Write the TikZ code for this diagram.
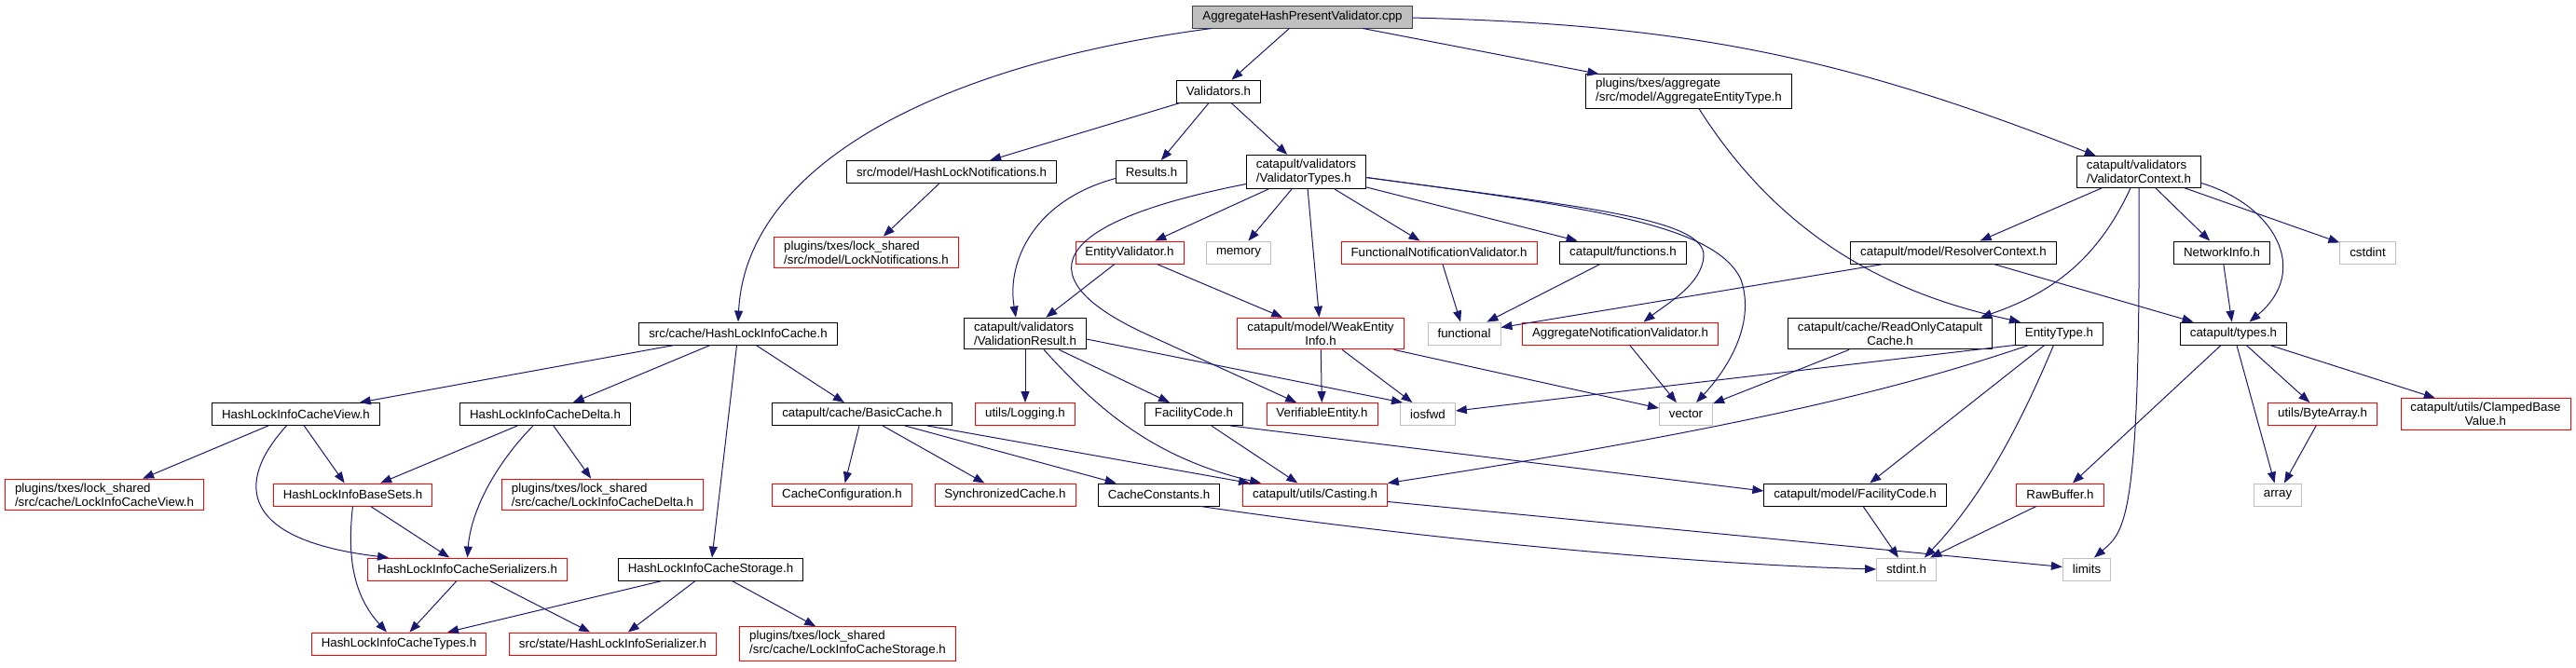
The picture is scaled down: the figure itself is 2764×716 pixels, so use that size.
\documentclass[tikz,border=0pt]{standalone}
\usepackage{fontspec}
\setmainfont{Liberation Sans}
\usetikzlibrary{arrows.meta}

\definecolor{edgeblue}{RGB}{25,25,112}
\definecolor{sysgray}{RGB}{191,191,191}
\definecolor{rootborder}{RGB}{64,64,64}

\tikzset{
    hdr/.style={rectangle, draw=black, fill=white, line width=0.9pt,
        font=\fontsize{13.3}{15}\selectfont, inner xsep=10.5pt, inner ysep=4.5pt,
        minimum height=24pt},
    hdrTrunc/.style={hdr, draw=red},
    hdrSys/.style={hdr, draw=sysgray},
    hdrRoot/.style={hdr, fill=sysgray, draw=rootborder},
    dep/.style={->, draw=edgeblue, line width=1pt}
}

\begin{document}
\begin{tikzpicture}[x=1pt, y=-1pt, >={Triangle[length=12pt, width=9pt]}]

        \useasboundingbox (0,0) rectangle (2764,716);

        % Vertices
        \node[hdrRoot](root) at (1397.5,18){AggregateHashPresentValidator.cpp};
        \node[hdr](validators) at (1307.5,98){Validators.h};
        \node[hdr, align=left](aggType) at (1812,98){plugins/txes/aggregate\\/src/model/AggregateEntityType.h};
        \node[hdr](hlNotif) at (1021,184.5){src/model/HashLockNotifications.h};
        \node[hdr](results) at (1235.5,184.5){Results.h};
        \node[hdr, align=left](valTypes) at (1401.5,184.5){catapult/validators\\/ValidatorTypes.h};
        \node[hdr, align=left](valContext) at (2295,184.5){catapult/validators\\/ValidatorContext.h};
        \node[hdrTrunc, align=left](lockNotif) at (929.5,271){plugins/txes/lock\_shared\\/src/model/LockNotifications.h};
        \node[hdrTrunc](entityVal) at (1212,271){EntityValidator.h};
        \node[hdrSys](memory) at (1329,271){memory};
        \node[hdrTrunc](funcNotif) at (1544,271){FunctionalNotificationValidator.h};
        \node[hdr](functions) at (1741.5,271){catapult/functions.h};
        \node[hdr](resolverCtx) at (2096,271){catapult/model/ResolverContext.h};
        \node[hdr](networkInfo) at (2384,271){NetworkInfo.h};
        \node[hdrSys](cstdint) at (2540.5,271){cstdint};
        \node[hdr](hlCache) at (792,358){src/cache/HashLockInfoCache.h};
        \node[hdr, align=left](valResult) at (1100,358){catapult/validators\\/ValidationResult.h};
        \node[hdrTrunc, align=center](weakEntity) at (1417,358){catapult/model/WeakEntity\\Info.h};
        \node[hdrSys](functional) at (1571,358){functional};
        \node[hdrTrunc](aggNotif) at (1738.5,358){AggregateNotificationValidator.h};
        \node[hdr, align=center](readOnly) at (2028,358){catapult/cache/ReadOnlyCatapult\\Cache.h};
        \node[hdr](entityType) at (2209.5,358){EntityType.h};
        \node[hdr](types) at (2396.5,358){catapult/types.h};
        \node[hdr](cacheView) at (317.5,444.5){HashLockInfoCacheView.h};
        \node[hdr](cacheDelta) at (585,444.5){HashLockInfoCacheDelta.h};
        \node[hdr](basicCache) at (925,444.5){catapult/cache/BasicCache.h};
        \node[hdrTrunc](logging) at (1100,444.5){utils/Logging.h};
        \node[hdr](facility) at (1281,444.5){FacilityCode.h};
        \node[hdrTrunc](verifiable) at (1418.5,444.5){VerifiableEntity.h};
        \node[hdrSys](iosfwd) at (1532,444.5){iosfwd};
        \node[hdrSys](vector) at (1809,444.5){vector};
        \node[hdrTrunc](byteArray) at (2492,444.5){utils/ByteArray.h};
        \node[hdrTrunc, align=center](clamped) at (2667,444.5){catapult/utils/ClampedBase\\Value.h};
        \node[hdrTrunc, align=left](lockView) at (112,531){plugins/txes/lock\_shared\\/src/cache/LockInfoCacheView.h};
        \node[hdrTrunc](baseSets) at (378.5,531){HashLockInfoBaseSets.h};
        \node[hdrTrunc, align=left](lockDelta) at (646.5,531){plugins/txes/lock\_shared\\/src/cache/LockInfoCacheDelta.h};
        \node[hdrTrunc](cacheConfig) at (903.5,531){CacheConfiguration.h};
        \node[hdrTrunc](syncCache) at (1078.5,531){SynchronizedCache.h};
        \node[hdr](cacheConst) at (1243.5,531){CacheConstants.h};
        \node[hdrTrunc](casting) at (1411,531){catapult/utils/Casting.h};
        \node[hdr](modelFacility) at (1990.5,531){catapult/model/FacilityCode.h};
        \node[hdrTrunc](rawBuffer) at (2210.5,531){RawBuffer.h};
        \node[hdrSys](array) at (2444,531){array};
        \node[hdrTrunc](serializers) at (501.5,611){HashLockInfoCacheSerializers.h};
        \node[hdr](storage) at (762.5,611){HashLockInfoCacheStorage.h};
        \node[hdrSys](stdint) at (2045.5,611){stdint.h};
        \node[hdrSys](limits) at (2239,611){limits};
        \node[hdrTrunc](cacheTypes) at (428,691){HashLockInfoCacheTypes.h};
        \node[hdrTrunc](hlSerializer) at (657.5,691){src/state/HashLockInfoSerializer.h};
        \node[hdrTrunc, align=left](lockStorage) at (909.5,691){plugins/txes/lock\_shared\\/src/cache/LockInfoCacheStorage.h};

        % Edges
        \draw[dep](root) -- (validators);
        \draw[dep]([xshift=21pt]root.south west) .. controls (1000,70) and (800,180) .. (hlCache.north);
        \draw[dep](root) -- (aggType);
        \draw[dep](root) to[bend left=10] (valContext);
        \draw[dep](validators) -- (hlNotif);
        \draw[dep](validators) -- (results);
        \draw[dep](validators) -- (valTypes);
        \draw[dep](hlNotif) -- (lockNotif);
        \draw[dep]([yshift=-7pt]results.west) .. controls (1110,215) and (1080,280) .. ([xshift=-10pt]valResult.north);
        \draw[dep](valTypes) -- (entityVal);
        \draw[dep](valTypes) -- (memory);
        \draw[dep](valTypes) -- (weakEntity);
        \draw[dep](valTypes) -- (funcNotif);
        \draw[dep](valTypes) -- (functions);
        \draw[dep]([yshift=-6pt]valTypes.east) .. controls (1700,222) and (1830,235) .. (1828,275) .. controls (1826,305) and (1790,325) .. ([xshift=25pt]aggNotif.north);
        \draw[dep]([yshift=-6pt]valTypes.east) .. controls (1700,222) and (1840,240) .. (1868,300) .. controls (1885,350) and (1850,400) .. ([xshift=11pt]vector.north);
        \draw[dep]([yshift=-13pt]valTypes.west) .. controls (1120,240) and (1100,300) .. (1233,360) -- (verifiable);
        \draw[dep](entityVal) -- (valResult);
        \draw[dep](entityVal) -- (weakEntity);
        \draw[dep](funcNotif) -- (functional);
        \draw[dep](functions) -- (functional);
        \draw[dep](resolverCtx) -- (functional);
        \draw[dep](resolverCtx) -- (types);
        \draw[dep](valContext) -- (resolverCtx);
        \draw[dep]([xshift=-9pt]valContext.south) .. controls (2250,280) and (2200,315) .. ([xshift=-13pt]readOnly.north east);
        \draw[dep](valContext) -- (networkInfo);
        \draw[dep]([yshift=-12pt]valContext.east) .. controls (2440,220) and (2480,290) .. ([xshift=17pt]types.north);
        \draw[dep](valContext) -- (cstdint);
        \draw[dep](valContext.south) .. controls (2297,560) and (2280,570) .. ([xshift=8pt]limits.north);
        \draw[dep](valResult) -- (logging);
        \draw[dep](valResult) -- (facility);
        \draw[dep]([xshift=20pt]valResult.south) .. controls (1170,430) and (1230,490) .. ([xshift=20pt]casting.north west);
        \draw[dep]([yshift=-6pt]valResult.east) -- ([xshift=-27pt]iosfwd.north);
        \draw[dep](weakEntity) -- (verifiable);
        \draw[dep](weakEntity) -- (iosfwd);
        \draw[dep](weakEntity) -- (vector);
        \draw[dep](aggNotif) -- (vector);
        \draw[dep](readOnly) -- (vector);
        \draw[dep](entityType.south west) -- (iosfwd);
        \draw[dep]([xshift=15pt]entityType.south west) .. controls (2060,410) and (1900,455) .. (casting.north east);
        \draw[dep](entityType) -- (modelFacility);
        \draw[dep]([xshift=-6pt]entityType.south) .. controls (2170,450) and (2130,530) .. ([xshift=-13pt]stdint.north east);
        \draw[dep]([xshift=11pt]aggType.south) .. controls (1920,270) and (2050,320) .. ([xshift=6pt]entityType.north west);
        \draw[dep](types) -- (rawBuffer);
        \draw[dep](types) -- (array);
        \draw[dep](types) -- (byteArray);
        \draw[dep](types) -- (clamped);
        \draw[dep](byteArray) -- (array);
        \draw[dep](rawBuffer) -- (stdint);
        \draw[dep](modelFacility) -- (stdint);
        \draw[dep](networkInfo) -- (types);
        \draw[dep](facility) -- (casting);
        \draw[dep]([xshift=-14pt]facility.south east) -- ([yshift=4pt]modelFacility.west);
        \draw[dep](casting) -- (limits);
        \draw[dep]([xshift=-21pt]cacheConst.south east) .. controls (1500,575) and (1800,605) .. (stdint.west);
        \draw[dep](hlCache) -- (cacheView);
        \draw[dep](hlCache) -- (cacheDelta);
        \draw[dep](hlCache) -- (storage);
        \draw[dep](hlCache) -- (basicCache);
        \draw[dep](cacheView) -- (lockView);
        \draw[dep](cacheView) -- (baseSets);
        \draw[dep]([xshift=-10pt]cacheView.south) .. controls (250,520) and (260,580) .. ([xshift=23pt]serializers.north west);
        \draw[dep](cacheDelta) -- (baseSets);
        \draw[dep]([xshift=-13pt]cacheDelta.south) .. controls (530,500) and (505,550) .. (serializers.north);
        \draw[dep](cacheDelta) -- (lockDelta);
        \draw[dep](baseSets) -- (serializers);
        \draw[dep](baseSets.south) .. controls (372,600) and (380,640) .. ([xshift=-13pt]cacheTypes.north);
        \draw[dep](serializers) -- (cacheTypes);
        \draw[dep](serializers) -- (hlSerializer);
        \draw[dep](storage) -- (cacheTypes);
        \draw[dep](storage) -- (hlSerializer);
        \draw[dep](storage) -- (lockStorage);
        \draw[dep](basicCache) -- (cacheConfig);
        \draw[dep](basicCache) -- (syncCache);
        \draw[dep](basicCache) -- (cacheConst);
        \draw[dep](basicCache) -- (casting);

    \end{tikzpicture}
\end{document}
